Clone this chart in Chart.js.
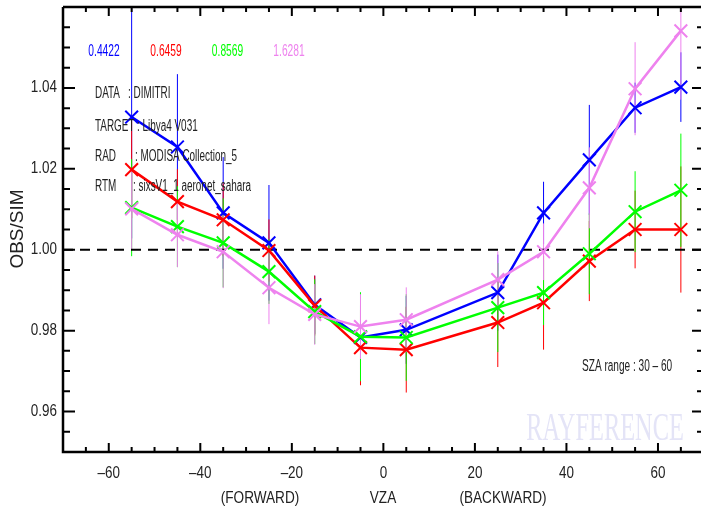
<!DOCTYPE html>
<html>
<head>
<meta charset="utf-8">
<script src="https://cdn.jsdelivr.net/npm/chart.js@4.4.0/dist/chart.umd.min.js"></script>
<style>
    html,body{ margin:0; padding:0; background:#ffffff; }
    #wrap{ width:701px; height:513px; }
</style>
</head>
<body>
<div id="wrap"><canvas id="ratioChart" width="701" height="513"></canvas></div>
<script>

// =====================================
// DATA
// =====================================

const vzaValues = [-55, -45, -35, -25, -15, -5, 5, 25, 35, 45, 55, 65];

const bandNames = ["0.4422", "0.6459", "0.8569", "1.6281"];

const ratio0442 = [1.0328, 1.0254, 1.0091, 1.0017, 0.9864, 0.9783, 0.9802, 0.9894, 1.0091, 1.0222, 1.0351, 1.0402];
const error0442 = [0.030, 0.018, 0.0138, 0.0143, 0.0072, 0.008, 0.0084, 0.0094, 0.0077, 0.0136, 0.0062, 0.0086];

const ratio0646 = [1.0198, 1.0119, 1.0074, 0.9998, 0.9862, 0.9758, 0.9753, 0.9820, 0.9869, 0.9972, 1.0050, 1.0050];
const error0646 = [0.012, 0.008, 0.009, 0.0077, 0.0074, 0.0093, 0.0106, 0.011, 0.0116, 0.0099, 0.0096, 0.0156];

const ratio0857 = [1.0104, 1.0057, 1.0017, 0.9946, 0.9847, 0.9785, 0.9783, 0.9857, 0.9894, 0.9990, 1.0094, 1.0147];
const error0857 = [0.012, 0.010, 0.011, 0.008, 0.008, 0.011, 0.0107, 0.011, 0.008, 0.010, 0.010, 0.014];

const ratio1628 = [1.0101, 1.0037, 0.9995, 0.9906, 0.9840, 0.9810, 0.9827, 0.9926, 0.9995, 1.0153, 1.0398, 1.0541];
const error1628 = [0.010, 0.008, 0.009, 0.009, 0.0075, 0.008, 0.008, 0.007, 0.007, 0.010, 0.0115, 0.017];

const xTickValues = [-60, -40, -20, 0, 20, 40, 60];
const yTickValues = [0.96, 0.98, 1.00, 1.02, 1.04];

const infoLabels = ["DATA", "TARGET", "RAD", "RTM"];
const infoValues = [": DIMITRI", ": Libya4 V031", ": MODISA Collection_5", ": sixsV1_1 aeronet_sahara"];

const xCaptions = ["(FORWARD)", "VZA", "(BACKWARD)"];
const yCaption = "OBS/SIM";
const szaNote = "SZA range : 30 \u2013 60";
const watermark = "RAYFERENCE";

const bandColors = ["#0000ff", "#ff0000", "#00ff00", "#ee82ee"];


// =====================================
// HELPERS
// =====================================

// no narrow face installed: use Liberation Sans squeezed horizontally
const SANS = "'Liberation Sans',Arial,sans-serif";

function toPoints(values){

    return vzaValues.map((v, i) => ({ x: v, y: values[i] }));

}


function drawText(ctx, text, x, y, font, color, align, sx){

    ctx.save();
    ctx.translate(x, y);
    ctx.scale(sx || 1, 1);
    ctx.font = font;
    ctx.fillStyle = color;
    ctx.textAlign = align || "left";
    ctx.textBaseline = "middle";
    ctx.fillText(text, 0, 0);
    ctx.restore();

}


// =====================================
// DECORATION PLUGIN (error bars, frame, texts)
// =====================================

const errorSets = [error0442, error0646, error0857, error1628];
const ratioSets = [ratio0442, ratio0646, ratio0857, ratio1628];

const decorations = {

    id: "decorations",

    beforeDatasetsDraw(chart){

        const ctx = chart.ctx;
        const xs = chart.scales.x;
        const ys = chart.scales.y;
        const area = chart.chartArea;

        ctx.save();
        ctx.beginPath();
        ctx.rect(area.left, area.top, area.right - area.left, area.bottom - area.top);
        ctx.clip();

        // vertical error bars
        ratioSets.forEach((values, s) => {

            ctx.strokeStyle = bandColors[s];
            ctx.lineWidth = 1;

            values.forEach((v, i) => {

                const px = xs.getPixelForValue(vzaValues[i]);
                ctx.beginPath();
                ctx.moveTo(px, ys.getPixelForValue(v + errorSets[s][i]));
                ctx.lineTo(px, ys.getPixelForValue(v - errorSets[s][i]));
                ctx.stroke();

            });

        });

        // reference line at 1
        const py = ys.getPixelForValue(1);
        ctx.strokeStyle = "#000";
        ctx.lineWidth = 2;
        ctx.setLineDash([10, 7]);
        ctx.beginPath();
        ctx.moveTo(area.left, py);
        ctx.lineTo(area.right, py);
        ctx.stroke();

        ctx.restore();

    },

    afterDraw(chart){

        const ctx = chart.ctx;
        const xs = chart.scales.x;
        const ys = chart.scales.y;
        const a = chart.chartArea;

        // frame
        ctx.save();
        ctx.strokeStyle = "#000";
        ctx.lineWidth = 2.5;
        ctx.beginPath();
        ctx.moveTo(a.left, a.top);
        ctx.lineTo(a.left, a.bottom);
        ctx.lineTo(a.right + 2, a.bottom);
        ctx.moveTo(a.left, a.top);
        ctx.lineTo(a.right + 2, a.top);
        ctx.stroke();

        // inward ticks on x axes
        ctx.lineWidth = 2;
        for(let k = -14; k <= 13; k++){

            const v = k * 5;
            const px = xs.getPixelForValue(v);
            const len = (v % 20 === 0) ? 9 : 5;
            ctx.beginPath();
            ctx.moveTo(px, a.bottom);
            ctx.lineTo(px, a.bottom - len);
            ctx.moveTo(px, a.top);
            ctx.lineTo(px, a.top + len);
            ctx.stroke();

        }

        // inward ticks on y axes
        for(let k = 190; k <= 212; k++){

            const v = k * 0.005;
            const py = ys.getPixelForValue(v);
            const major = (k % 4 === 0);
            const len = major ? 12 : 7;
            ctx.beginPath();
            ctx.moveTo(a.left, py);
            ctx.lineTo(a.left + len, py);
            ctx.moveTo(a.right + 2, py);
            ctx.lineTo(a.right + 2 - (major ? 11 : 6), py);
            ctx.stroke();

        }
        ctx.restore();

        // tick labels
        xTickValues.forEach(v => {
            const txt = v < 0 ? "\u2013" + Math.abs(v) : String(v);
            drawText(ctx, txt, xs.getPixelForValue(v), 474, "16px " + SANS, "#222", "center", 0.84);
        });

        yTickValues.forEach(v => {
            drawText(ctx, v.toFixed(2), a.left - 6, ys.getPixelForValue(v), "16px " + SANS, "#222", "right", 0.84);
        });

        // band legend
        const legendX = [104, 166, 227.5, 289];
        bandNames.forEach((name, i) => {
            drawText(ctx, name, legendX[i], 52, "16px " + SANS, bandColors[i], "center", 0.64);
        });

        // info block
        const valueX = [128, 137, 135, 133];
        const infoY = [94, 127, 157, 187];
        infoLabels.forEach((label, i) => {
            drawText(ctx, label, 95, infoY[i], "16px " + SANS, "#222", "left", 0.62);
            drawText(ctx, infoValues[i], valueX[i], infoY[i], "16px " + SANS, "#222", "left", 0.62);
        });

        drawText(ctx, szaNote, 582, 367, "16px " + SANS, "#222", "left", 0.63);

        // watermark
        drawText(ctx, watermark, 605, 430, "39px 'Liberation Serif','Times New Roman',serif", "#e4e4f7", "center", 0.625);

        // x captions
        const captionX = [260, 383, 503];
        xCaptions.forEach((c, i) => {
            drawText(ctx, c, captionX[i], 498, "17px " + SANS, "#222", "center", 0.8);
        });

        // y caption
        ctx.save();
        ctx.translate(23, 229);
        ctx.rotate(-Math.PI / 2);
        ctx.font = "19px " + SANS;
        ctx.fillStyle = "#222";
        ctx.textAlign = "center";
        ctx.textBaseline = "alphabetic";
        ctx.fillText(yCaption, 0, 0);
        ctx.restore();

    }

};


// =====================================
// CHART
// =====================================

function makeDataset(i, values){

    return {
        label: bandNames[i],
        data: toPoints(values),
        borderColor: bandColors[i],
        backgroundColor: bandColors[i],
        borderWidth: 2.5,
        pointStyle: "crossRot",
        pointRadius: 9,
        pointBorderWidth: 2,
        pointBorderColor: bandColors[i],
        tension: 0,
        order: 4 - i
    };

}


function noPadding(scale){

    scale.paddingLeft = 0;
    scale.paddingRight = 0;
    scale.paddingTop = 0;
    scale.paddingBottom = 0;

}


new Chart(document.getElementById("ratioChart"), {

    type: "line",

    data: {
        datasets: [
            makeDataset(0, ratio0442),
            makeDataset(1, ratio0646),
            makeDataset(2, ratio0857),
            makeDataset(3, ratio1628)
        ]
    },

    options: {
        responsive: false,
        animation: false,
        devicePixelRatio: 1,
        layout: {
            autoPadding: false,
            padding: { top: 7, right: 0, left: 0, bottom: 0 }
        },
        plugins: {
            legend: { display: false },
            tooltip: { enabled: false }
        },
        scales: {
            x: {
                type: "linear",
                min: -70,
                max: 69.4,
                grid: { display: false, drawTicks: false },
                border: { display: false },
                ticks: { display: false },
                afterFit(scale){
                    scale.height = 61;
                    noPadding(scale);
                }
            },
            y: {
                min: 0.95,
                max: 1.06,
                grid: { display: false, drawTicks: false },
                border: { display: false },
                ticks: { display: false },
                afterFit(scale){
                    scale.width = 63;
                    noPadding(scale);
                }
            }
        }
    },

    plugins: [decorations]

});

</script>
</body>
</html>
